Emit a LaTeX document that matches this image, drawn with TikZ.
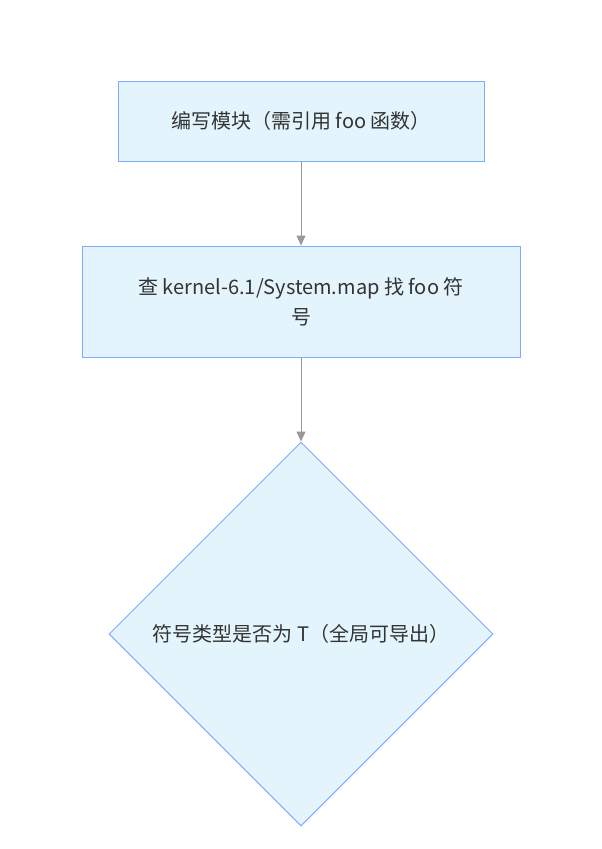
\documentclass[tikz,border=0pt]{standalone}
\usepackage{fontspec}
\setmainfont{Noto Sans CJK SC}
\usetikzlibrary{shapes.geometric,arrows.meta}
\definecolor{fillc}{HTML}{E3F4FC}
\definecolor{linec}{HTML}{80AAFF}
\definecolor{txt}{HTML}{333333}
\definecolor{arr}{HTML}{999999}
\begin{document}
\begin{tikzpicture}[x=1pt,y=-1pt,
  box/.style={draw=linec,fill=fillc,line width=1pt,text=txt,font=\fontsize{20}{30}\selectfont,inner sep=0pt,align=center},
  conn/.style={draw=arr,line width=1pt,-{Triangle[length=10pt,width=9pt,fill=arr]}}]
\useasboundingbox (0,0) rectangle (602,849);
\node[box,minimum width=366pt,minimum height=80pt] (a) at (301,121) {编写模块（需引用 foo 函数）};
\node[box,minimum width=438pt,minimum height=111pt] (b) at (301,301.5) {查 kernel-6.1/System.map 找 foo 符\\号};
\node[box,diamond,aspect=1,minimum width=384pt,minimum height=384pt] (c) at (301,634) {符号类型是否为 T（全局可导出）};
\draw[conn] (a) -- (b);
\draw[conn] (b) -- (c.north);
\end{tikzpicture}
\end{document}
